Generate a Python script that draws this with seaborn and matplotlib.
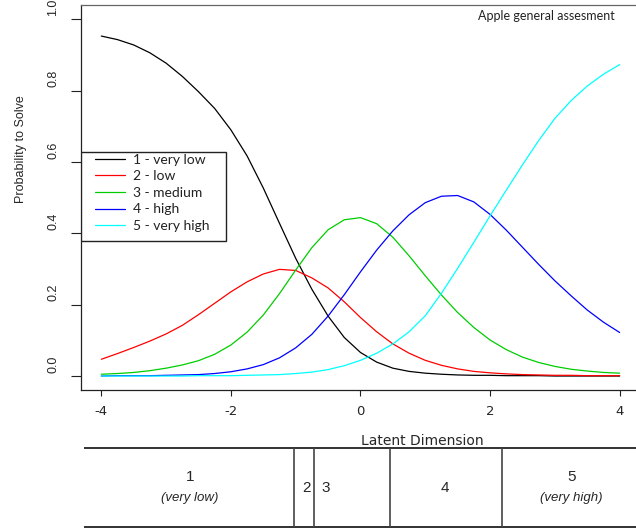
import numpy as np
import pandas as pd
import matplotlib
matplotlib.use("Agg")
import matplotlib.pyplot as plt
import seaborn as sns
from matplotlib.lines import Line2D
from matplotlib.patches import Rectangle
from matplotlib.transforms import ScaledTranslation

# latent trait grid and category probabilities
theta = [-4.0, -3.75, -3.5, -3.25, -3.0, -2.75, -2.5, -2.25, -2.0, -1.75, -1.5,
         -1.25, -1.0, -0.75, -0.5, -0.25, 0.0, 0.25, 0.5, 0.75, 1.0, 1.25, 1.5,
         1.75, 2.0, 2.25, 2.5, 2.75, 3.0, 3.25, 3.5, 3.75, 4.0]
p_very_low = [0.953, 0.943, 0.928, 0.906, 0.877, 0.840, 0.797, 0.750, 0.690, 0.617, 0.527,
              0.428, 0.330, 0.243, 0.168, 0.108, 0.066, 0.039, 0.022, 0.013, 0.008, 0.005, 0.003,
              0.002, 0.002, 0.001, 0.001, 0.001, 0.000, 0.000, 0.000, 0.000, 0.000]
p_low = [0.047, 0.063, 0.080, 0.098, 0.118, 0.142, 0.172, 0.204, 0.236, 0.264, 0.286,
         0.299, 0.296, 0.275, 0.247, 0.208, 0.164, 0.124, 0.090, 0.064, 0.044, 0.030, 0.020,
         0.013, 0.009, 0.006, 0.004, 0.003, 0.002, 0.002, 0.001, 0.001, 0.001]
p_medium = [0.005, 0.007, 0.010, 0.015, 0.022, 0.031, 0.043, 0.061, 0.087, 0.123, 0.171,
            0.231, 0.297, 0.360, 0.410, 0.438, 0.444, 0.427, 0.389, 0.337, 0.281, 0.227, 0.178,
            0.136, 0.101, 0.074, 0.053, 0.038, 0.027, 0.019, 0.014, 0.010, 0.008]
p_high = [0.000, 0.001, 0.001, 0.001, 0.002, 0.003, 0.004, 0.007, 0.012, 0.020, 0.032,
          0.051, 0.079, 0.117, 0.168, 0.228, 0.292, 0.353, 0.407, 0.452, 0.486, 0.504, 0.506,
          0.488, 0.453, 0.409, 0.361, 0.313, 0.267, 0.225, 0.185, 0.151, 0.122]
p_very_high = [0.000, 0.000, 0.000, 0.000, 0.000, 0.000, 0.001, 0.001, 0.001, 0.002, 0.003,
               0.004, 0.007, 0.011, 0.018, 0.029, 0.044, 0.064, 0.090, 0.124, 0.169, 0.232, 0.302,
               0.375, 0.449, 0.521, 0.592, 0.660, 0.722, 0.772, 0.813, 0.846, 0.873]

categories = ["1 - very low", "2 - low", "3 - medium", "4 - high", "5 - very high"]
colors = ["black", "red", "#00CD00", "blue", "cyan"]

# regions of the latent dimension shown in the strip below the plot
region_bounds = [-4.26, -1.02, -0.72, 0.45, 2.19, 4.32]
region_num = ["1", "2", "3", "4", "5"]
region_desc = ["(very low)", "", "", "", "(very high)"]
region_x = [-2.63, -0.84, -0.53, 1.31, 3.26]

df = pd.DataFrame({"theta": theta, categories[0]: p_very_low, categories[1]: p_low,
                   categories[2]: p_medium, categories[3]: p_high, categories[4]: p_very_high})
df = df.melt(id_vars="theta", var_name="category", value_name="prob")

sns.set_style("white")
plt.rcParams['font.family'] = ['Liberation Sans', 'DejaVu Sans']
plt.rcParams['axes.unicode_minus'] = False

fig = plt.figure(figsize=(6.36, 5.28), dpi=100)
ax = fig.add_axes([0.1267, 0.2608, 0.8802, 0.7297])

sns.lineplot(data=df, x="theta", y="prob", hue="category", hue_order=categories,
             palette=colors, lw=0.9, legend=False, errorbar=None, ax=ax)

ax.set_xlim(-4.32, 4.32)
ax.set_ylim(-0.04, 1.04)
ax.set_xticks([-4, -2, 0, 2, 4])
ax.set_yticks([0, 0.2, 0.4, 0.6, 0.8, 1.0])
ax.set_xlabel("")
ax.set_ylabel("Probability to Solve", fontsize=9)
ax.yaxis.set_label_coords(-0.096, 0.626)
for s in ax.spines.values():
    s.set_color("#222222")
    s.set_linewidth(0.9)
ax.spines["top"].set_color("#666666")

ax.tick_params(axis="x", bottom=True, direction="out", length=4.3, width=0.8,
               pad=6, labelsize=9.5, color="#222222")
ax.tick_params(axis="y", left=True, direction="out", length=7.2, width=0.8,
               pad=8, labelsize=9, labelrotation=90, color="#222222")
for lab in ax.get_xticklabels():
    lab.set_fontfamily("DejaVu Sans")
for lab in ax.get_yticklabels():
    lab.set_va("center")
    lab.set_transform(lab.get_transform() + ScaledTranslation(0, 0.12, fig.dpi_scale_trans))

ax.text(0.9546, 0.961, "Apple general assesment", transform=ax.transAxes,
        ha="right", va="baseline", fontsize=9, family="Lato", color="#222222")

# legend in a plain box, R style
ax.add_patch(Rectangle((0.0007, 0.3875), 0.259, 0.231, transform=ax.transAxes,
                       facecolor="white", edgecolor="#222222", lw=1.0, zorder=4.5))
handles = [Line2D([], [], color=c, lw=0.9) for c in colors]
leg = ax.legend(handles, categories, loc="upper left", bbox_to_anchor=(0.0257, 0.614),
                frameon=False, borderpad=0, borderaxespad=0, handlelength=2.16,
                handletextpad=0.58, labelspacing=0.33, prop={"family": "Lato", "size": 10})
for t in leg.get_texts():
    t.set_color("#222222")

# strip with the category regions
tab = fig.add_axes([0.1267, 1 / 528, 0.8802, 79 / 528])
tab.set_xlim(-4.32, 4.32)
tab.set_ylim(0, 1)
tab.axis("off")
tab.hlines([0, 1], region_bounds[0], region_bounds[-1], color="#222222", lw=1.3, clip_on=False)
tab.vlines(region_bounds[1:-1], 0, 1, color="#444444", lw=1.2)
for x, num, desc in zip(region_x, region_num, region_desc):
    if desc:
        tab.text(x, 0.633, num, ha="center", va="center", fontsize=11)
        tab.text(x, 0.367, desc, ha="center", va="center", fontsize=9.5, style="italic")
    else:
        tab.text(x, 0.5, num, ha="center", va="center", fontsize=11)
tab.text(0.957, 1.092, "Latent Dimension", ha="center", va="center", fontsize=10,
         family="DejaVu Sans", clip_on=False)

fig.savefig("out.png", dpi=100)
